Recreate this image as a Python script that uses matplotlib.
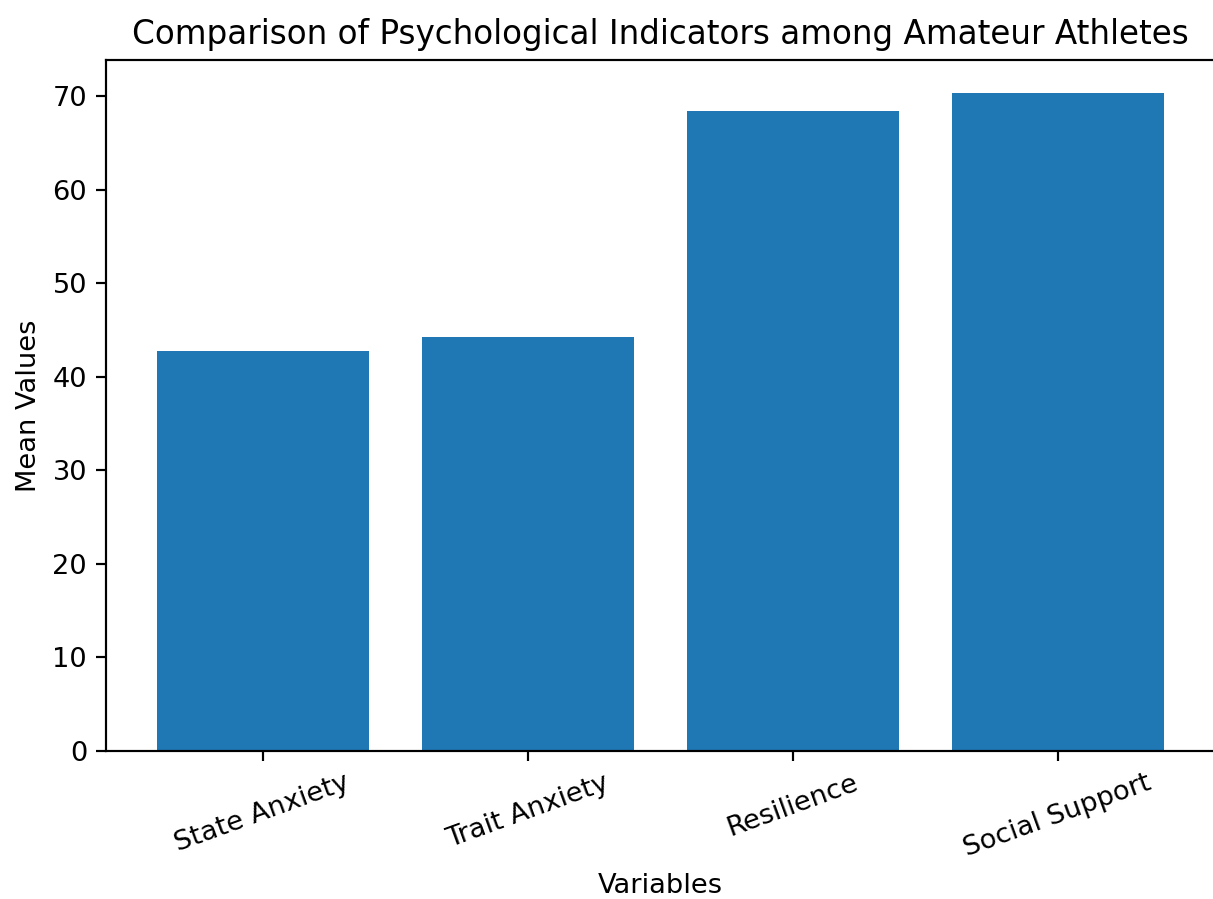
import matplotlib
matplotlib.use("Agg")
import matplotlib.pyplot as plt

categories = ["State Anxiety", "Trait Anxiety", "Resilience", "Social Support"]
mean_values = [42.75, 44.2, 68.4, 70.3]

fig, ax = plt.subplots(figsize=(1213 / 196, 899 / 196), dpi=196)
ax.bar(categories, mean_values, color="#1f77b4")
ax.set_title("Comparison of Psychological Indicators among Amateur Athletes")
ax.set_xlabel("Variables")
ax.set_ylabel("Mean Values")
plt.xticks(rotation=20)
# the original image is cropped on the right, so the axes run past the edge
fig.subplots_adjust(left=0.0875, right=1.001, top=0.933, bottom=0.1646)
fig.savefig("out.png", dpi=196)
